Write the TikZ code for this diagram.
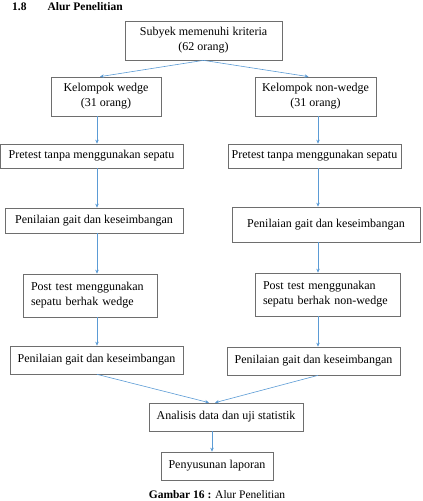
\documentclass[tikz,border=0pt]{standalone}
\usepackage{fontspec}
\setmainfont{Liberation Serif}
\usetikzlibrary{arrows.meta}
\definecolor{alurBlue}{RGB}{91,155,213}
\definecolor{alurGray}{RGB}{110,110,110}
\begin{document}
\begin{tikzpicture}[
    x=1pt, y=-1pt,
    alurBox/.style={draw=alurGray, line width=0.7pt, inner sep=0pt, align=center,
        font=\fontsize{12}{15}\selectfont},
    alurLeftBox/.style={alurBox, align=left, inner xsep=8pt},
    alurArrow/.style={alurBlue, line width=0.6pt, -{Stealth[length=4pt, width=3.5pt]}}
]
    \useasboundingbox (0,0) rectangle (423,501);

    % judul
    \node[anchor=base west, font=\bfseries\fontsize{11.5}{13}\selectfont, inner sep=0pt]
        (judul) at (12,10) {1.8\hspace{21pt}Alur Penelitian};

    % kolom panah
    \coordinate (colA) at (97,0);
    \coordinate (colB) at (318,0);

    % kotak
    \node[alurBox, minimum width=157pt, minimum height=39pt] (subyek) at (203.5,40.5)
        {Subyek memenuhi kriteria\\(62 orang)};
    \node[alurBox, minimum width=110pt, minimum height=39pt] (kelA) at (106,96.5)
        {Kelompok wedge\\(31 orang)};
    \node[alurBox, minimum width=121pt, minimum height=39pt] (kelB) at (315.5,96.5)
        {Kelompok non-wedge\\(31 orang)};
    \node[alurBox, minimum width=183pt, minimum height=24pt] (preA) at (91.5,156)
        {Pretest tanpa menggunakan sepatu};
    \node[alurBox, minimum width=173pt, minimum height=24pt] (preB) at (314.5,156)
        {Pretest tanpa menggunakan sepatu};
    \node[alurBox, minimum width=178pt, minimum height=25pt] (nilA) at (94,220.5)
        {Penilaian gait dan keseimbangan};
    \node[alurBox, minimum width=188pt, minimum height=35pt] (nilB) at (326,224.5)
        {Penilaian gait dan keseimbangan};
    \node[alurLeftBox, text width=118pt, minimum height=43pt] (postA) at (90,295.5)
        {Post test menggunakan\\sepatu berhak wedge};
    \node[alurLeftBox, text width=129pt, minimum height=43pt] (postB) at (327.5,294.5)
        {Post test menggunakan\\sepatu berhak non-wedge};
    \node[alurBox, minimum width=173pt, minimum height=28pt] (hasilA) at (96.5,360)
        {Penilaian gait dan keseimbangan};
    \node[alurBox, minimum width=173pt, minimum height=28pt] (hasilB) at (313.5,361)
        {Penilaian gait dan keseimbangan};
    \node[alurBox, minimum width=154pt, minimum height=28pt] (analisis) at (226,417)
        {Analisis data dan uji statistik};
    \node[alurBox, minimum width=112pt, minimum height=28pt] (laporan) at (217,466)
        {Penyusunan laporan};

    % panah
    \draw[alurArrow] (subyek.south) -- ([xshift=-6pt]kelA.north);
    \draw[alurArrow] (subyek.south) -- ([xshift=-7pt]kelB.north);
    \foreach \a/\b in {kelA/preA, preA/nilA, nilA/postA, postA/hasilA} {
        \draw[alurArrow] (\a.south -| colA) -- (\b.north -| colA);
    }
    \foreach \a/\b in {kelB/preB, preB/nilB, nilB/postB, postB/hasilB} {
        \draw[alurArrow] (\a.south -| colB) -- (\b.north -| colB);
    }
    \draw[alurArrow] (hasilA.south -| colA) -- ([xshift=-17pt]analisis.north);
    \draw[alurArrow] (hasilB.south -| colB) -- ([xshift=-11pt]analisis.north);
    \draw[alurArrow] ([xshift=-14pt]analisis.south) -- ([xshift=-5pt]laporan.north);

    % keterangan
    \node[anchor=base, inner sep=0pt, font=\fontsize{11.5}{13}\selectfont] (gambar) at (217,498.5)
        {\textbf{Gambar 16 :} Alur Penelitian};
\end{tikzpicture}
\end{document}
